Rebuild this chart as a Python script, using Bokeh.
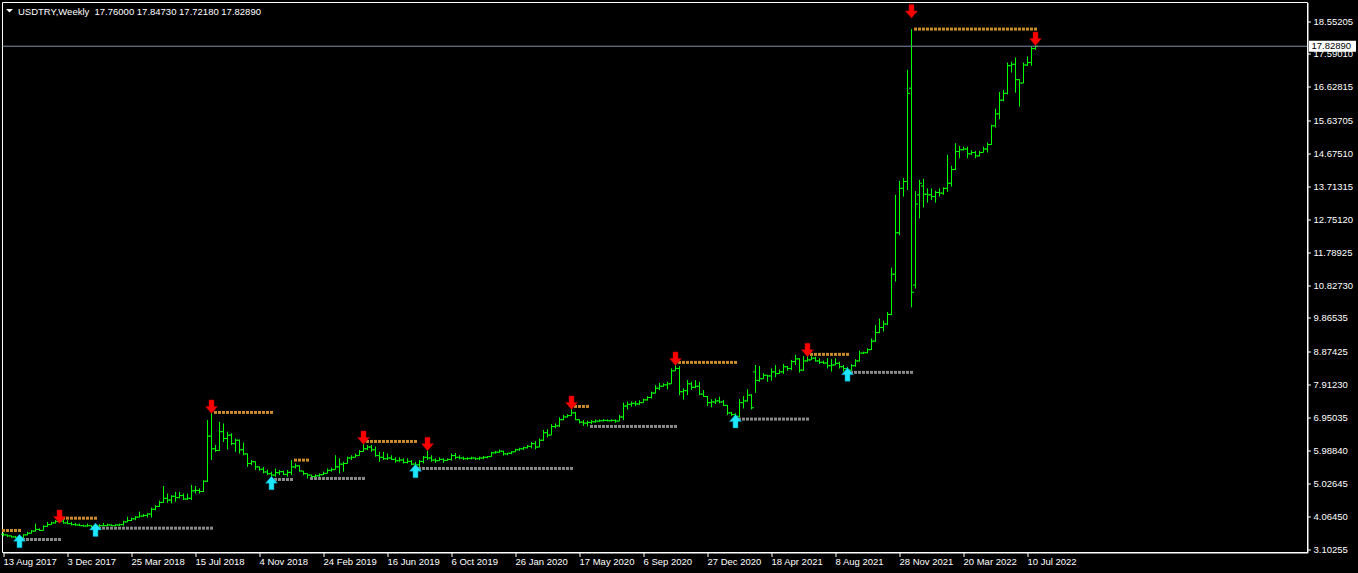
from bokeh.plotting import figure
from bokeh.models import LinearAxis, Label, FixedTicker, PrintfTickFormatter
from bokeh.embed import file_html
from bokeh.resources import INLINE

# ---------------- data ----------------
symbol = "USDTRY"
timeframe = "Weekly"

date_tick_index = [0, 16, 32, 48, 64, 80, 96, 112, 128, 144, 160, 176, 192, 208, 224, 240, 256]
date_tick_labels = ["13 Aug 2017", "3 Dec 2017", "25 Mar 2018", "15 Jul 2018", "4 Nov 2018",
                    "24 Feb 2019", "16 Jun 2019", "6 Oct 2019", "26 Jan 2020", "17 May 2020",
                    "6 Sep 2020", "27 Dec 2020", "18 Apr 2021", "8 Aug 2021", "28 Nov 2021",
                    "20 Mar 2022", "10 Jul 2022"]

price_ticks = [18.55205, 17.59010, 16.62815, 15.63705, 14.67510, 13.71315, 12.75120, 11.78925,
               10.82730, 9.86535, 8.87425, 7.91230, 6.95035, 5.98840, 5.02645, 4.06450, 3.10255]

bar_open = [
    3.55, 3.53, 3.50, 3.47, 3.46, 3.45, 3.53, 3.58, 3.64, 3.69,
    3.66, 3.78, 3.83, 3.88, 3.92, 3.93, 3.88, 3.86, 3.83, 3.82,
    3.80, 3.79, 3.80, 3.77, 3.79, 3.80, 3.80, 3.82, 3.80, 3.82,
    3.83, 3.91, 3.95, 4.00, 4.05, 4.08, 4.10, 4.14, 4.28, 4.36,
    4.48, 4.60, 4.55, 4.66, 4.62, 4.68, 4.58, 4.60, 4.82, 4.83,
    4.80, 5.10, 6.42, 6.05, 6.00, 6.55, 6.35, 6.45, 6.20, 6.30,
    6.02, 5.90, 5.62, 5.67, 5.52, 5.45, 5.37, 5.32, 5.28, 5.35,
    5.38, 5.30, 5.36, 5.52, 5.55, 5.40, 5.32, 5.28, 5.24, 5.26,
    5.29, 5.33, 5.42, 5.44, 5.52, 5.60, 5.62, 5.78, 5.80, 5.85,
    5.97, 6.05, 6.10, 6.02, 5.85, 5.80, 5.76, 5.78, 5.74, 5.70,
    5.72, 5.65, 5.68, 5.60, 5.58, 5.68, 5.80, 5.78, 5.72, 5.70,
    5.74, 5.71, 5.74, 5.85, 5.80, 5.78, 5.76, 5.77, 5.78, 5.76,
    5.78, 5.80, 5.82, 5.93, 5.95, 5.98, 5.90, 5.92, 5.96, 6.02,
    6.05, 6.08, 6.12, 6.20, 6.10, 6.30, 6.52, 6.45, 6.70, 6.72,
    6.90, 6.98, 7.02, 7.10, 6.90, 6.83, 6.80, 6.82, 6.84, 6.86,
    6.87, 6.88, 6.87, 6.88, 6.86, 6.98, 7.30, 7.35, 7.38, 7.36,
    7.40, 7.48, 7.55, 7.68, 7.82, 7.88, 7.92, 7.95, 8.33, 8.40,
    7.72, 7.75, 7.95, 7.85, 7.88, 7.65, 7.58, 7.40, 7.42, 7.45,
    7.42, 7.32, 7.10, 7.05, 7.00, 7.40, 7.45, 7.62, 8.30, 8.05,
    8.10, 8.20, 8.18, 8.30, 8.25, 8.30, 8.45, 8.40, 8.60, 8.68,
    8.35, 8.62, 8.65, 8.70, 8.62, 8.58, 8.56, 8.48, 8.50, 8.55,
    8.45, 8.40, 8.35, 8.48, 8.62, 8.85, 8.86, 8.95, 9.20, 9.45,
    9.60, 9.70, 9.98, 11.16, 12.37, 13.67, 13.87, 16.60, 10.84, 13.48,
    13.74, 13.50, 13.48, 13.43, 13.55, 13.53, 13.67, 13.82, 14.22, 14.75,
    14.80, 14.82, 14.68, 14.72, 14.62, 14.72, 14.82, 14.95, 15.50, 15.85,
    16.25, 16.45, 17.26, 17.30, 16.85, 16.75, 17.28, 17.35, 17.76]

bar_high = [
    3.59, 3.54, 3.51, 3.50, 3.48, 3.55, 3.62, 3.67, 3.86, 3.72,
    3.81, 3.91, 3.91, 3.96, 4.019, 3.98, 3.96, 3.91, 3.88, 3.86,
    3.83, 3.86, 3.81, 3.84, 3.84, 3.88, 3.86, 3.84, 3.84, 3.86,
    3.94, 4.06, 4.04, 4.08, 4.21, 4.14, 4.16, 4.33, 4.40, 4.53,
    4.96, 4.74, 4.69, 4.79, 4.79, 4.74, 4.74, 4.99, 4.96, 4.89,
    5.13, 6.89, 7.113, 6.16, 6.84, 6.79, 6.55, 6.50, 6.35, 6.32,
    6.23, 5.91, 5.72, 5.68, 5.53, 5.52, 5.44, 5.38, 5.47, 5.43,
    5.41, 5.43, 5.718, 5.62, 5.57, 5.40, 5.33, 5.29, 5.30, 5.33,
    5.38, 5.47, 5.50, 5.86, 5.77, 5.67, 5.82, 5.86, 5.91, 6.01,
    6.264, 6.16, 6.16, 6.11, 5.96, 5.96, 5.91, 5.86, 5.80, 5.80,
    5.77, 5.77, 5.72, 5.67, 5.72, 5.84, 6.01, 5.86, 5.77, 5.80,
    5.77, 5.77, 5.91, 5.93, 5.86, 5.82, 5.80, 5.82, 5.79, 5.82,
    5.84, 5.84, 5.96, 5.99, 6.03, 5.99, 5.93, 5.98, 6.05, 6.08,
    6.11, 6.16, 6.25, 6.28, 6.35, 6.60, 6.62, 6.77, 6.79, 6.97,
    7.04, 7.06, 7.289, 7.13, 6.91, 6.89, 6.87, 6.89, 6.91, 6.91,
    6.92, 6.91, 6.91, 6.91, 7.04, 7.40, 7.43, 7.43, 7.45, 7.47,
    7.52, 7.59, 7.72, 7.91, 7.98, 7.96, 8.01, 8.40, 8.577, 8.47,
    7.82, 8.06, 8.01, 8.06, 8.01, 7.77, 7.59, 7.50, 7.52, 7.57,
    7.48, 7.33, 7.13, 7.09, 7.50, 7.59, 7.79, 7.65, 8.50, 8.47,
    8.26, 8.21, 8.40, 8.50, 8.37, 8.53, 8.47, 8.65, 8.80, 8.70,
    8.76, 8.812, 8.76, 8.74, 8.70, 8.63, 8.70, 8.67, 8.70, 8.60,
    8.50, 8.45, 8.53, 8.67, 8.92, 8.89, 8.99, 9.28, 9.67, 9.86,
    9.80, 10.05, 11.35, 13.48, 13.89, 13.97, 17.14, 18.33, 13.59, 13.92,
    13.95, 13.67, 13.67, 13.60, 13.67, 13.70, 14.65, 14.33, 14.99, 14.91,
    14.89, 14.89, 14.79, 14.76, 14.76, 14.89, 15.01, 15.53, 16.00, 16.49,
    16.55, 17.35, 17.38, 17.50, 16.86, 17.35, 17.53, 17.82, 17.8473]

bar_low = [
    3.49, 3.47, 3.45, 3.43, 3.395, 3.44, 3.52, 3.57, 3.63, 3.65,
    3.66, 3.77, 3.82, 3.86, 3.88, 3.86, 3.84, 3.81, 3.80, 3.79,
    3.77, 3.77, 3.74, 3.727, 3.75, 3.79, 3.79, 3.79, 3.79, 3.79,
    3.80, 3.90, 3.94, 3.96, 4.04, 4.06, 4.04, 4.04, 4.25, 4.35,
    4.47, 4.47, 4.45, 4.50, 4.60, 4.55, 4.55, 4.55, 4.74, 4.74,
    4.79, 5.08, 5.72, 5.96, 5.99, 6.25, 6.03, 6.16, 5.96, 5.91,
    5.86, 5.52, 5.57, 5.43, 5.41, 5.33, 5.28, 5.151, 5.23, 5.28,
    5.28, 5.23, 5.28, 5.47, 5.38, 5.28, 5.181, 5.20, 5.21, 5.23,
    5.28, 5.33, 5.38, 5.44, 5.33, 5.38, 5.62, 5.72, 5.80, 5.85,
    5.96, 6.01, 5.96, 5.82, 5.67, 5.72, 5.72, 5.72, 5.64, 5.67,
    5.62, 5.62, 5.57, 5.474, 5.50, 5.62, 5.72, 5.67, 5.64, 5.70,
    5.64, 5.70, 5.70, 5.74, 5.74, 5.72, 5.72, 5.74, 5.72, 5.72,
    5.74, 5.77, 5.82, 5.91, 5.93, 5.85, 5.86, 5.89, 5.96, 5.99,
    6.01, 6.06, 6.06, 6.03, 6.10, 6.28, 6.38, 6.45, 6.65, 6.69,
    6.89, 6.97, 7.02, 6.89, 6.79, 6.72, 6.703, 6.77, 6.81, 6.84,
    6.85, 6.85, 6.85, 6.81, 6.86, 6.89, 7.20, 7.28, 7.30, 7.33,
    7.40, 7.46, 7.52, 7.67, 7.77, 7.87, 7.79, 7.95, 8.33, 7.62,
    7.49, 7.62, 7.77, 7.82, 7.62, 7.57, 7.30, 7.26, 7.36, 7.38,
    7.30, 7.04, 7.01, 6.918, 6.97, 7.23, 7.43, 7.20, 7.69, 8.01,
    8.10, 8.01, 8.04, 8.14, 8.24, 8.24, 8.33, 8.35, 8.50, 8.28,
    8.33, 8.60, 8.65, 8.60, 8.53, 8.53, 8.40, 8.31, 8.50, 8.40,
    8.31, 8.285, 8.33, 8.45, 8.60, 8.82, 8.84, 8.94, 9.18, 9.43,
    9.48, 9.67, 9.96, 10.94, 12.30, 13.43, 13.62, 10.19, 10.74, 12.79,
    13.11, 13.25, 13.33, 13.25, 13.43, 13.48, 13.57, 13.72, 14.21, 14.55,
    14.78, 14.55, 14.65, 14.55, 14.60, 14.72, 14.72, 14.94, 15.45, 15.69,
    16.22, 16.42, 17.06, 16.47, 16.06, 16.75, 17.25, 17.26, 17.7218]

bar_close = [
    3.53, 3.50, 3.47, 3.46, 3.45, 3.53, 3.58, 3.64, 3.69, 3.66,
    3.78, 3.83, 3.88, 3.92, 3.93, 3.88, 3.86, 3.83, 3.82, 3.80,
    3.79, 3.80, 3.77, 3.79, 3.80, 3.80, 3.82, 3.80, 3.82, 3.83,
    3.91, 3.95, 4.00, 4.05, 4.08, 4.10, 4.14, 4.28, 4.36, 4.48,
    4.60, 4.55, 4.66, 4.62, 4.68, 4.58, 4.60, 4.82, 4.83, 4.80,
    5.10, 6.42, 6.05, 6.00, 6.55, 6.35, 6.45, 6.20, 6.30, 6.02,
    5.90, 5.62, 5.67, 5.52, 5.45, 5.37, 5.32, 5.28, 5.35, 5.38,
    5.30, 5.36, 5.52, 5.55, 5.40, 5.32, 5.28, 5.24, 5.26, 5.29,
    5.33, 5.42, 5.44, 5.52, 5.60, 5.62, 5.78, 5.80, 5.85, 5.97,
    6.05, 6.10, 6.02, 5.85, 5.80, 5.76, 5.78, 5.74, 5.70, 5.72,
    5.65, 5.68, 5.60, 5.58, 5.68, 5.80, 5.78, 5.72, 5.70, 5.74,
    5.71, 5.74, 5.85, 5.80, 5.78, 5.76, 5.77, 5.78, 5.76, 5.78,
    5.80, 5.82, 5.93, 5.95, 5.98, 5.90, 5.92, 5.96, 6.02, 6.05,
    6.08, 6.12, 6.20, 6.10, 6.30, 6.52, 6.45, 6.70, 6.72, 6.90,
    6.98, 7.02, 7.10, 6.90, 6.83, 6.80, 6.82, 6.84, 6.86, 6.87,
    6.88, 6.87, 6.88, 6.86, 6.98, 7.30, 7.35, 7.38, 7.36, 7.40,
    7.48, 7.55, 7.68, 7.82, 7.88, 7.92, 7.95, 8.33, 8.40, 7.72,
    7.75, 7.95, 7.85, 7.88, 7.65, 7.58, 7.40, 7.42, 7.45, 7.42,
    7.32, 7.10, 7.05, 7.00, 7.40, 7.45, 7.62, 7.25, 8.05, 8.10,
    8.20, 8.18, 8.30, 8.25, 8.30, 8.45, 8.40, 8.60, 8.68, 8.35,
    8.62, 8.65, 8.70, 8.62, 8.58, 8.56, 8.48, 8.50, 8.55, 8.45,
    8.40, 8.35, 8.48, 8.62, 8.85, 8.86, 8.95, 9.20, 9.45, 9.60,
    9.70, 9.98, 11.16, 12.37, 13.67, 13.87, 16.45, 10.63, 13.21, 13.82,
    13.50, 13.48, 13.43, 13.55, 13.53, 13.67, 13.82, 14.22, 14.75, 14.80,
    14.82, 14.68, 14.72, 14.62, 14.72, 14.82, 14.95, 15.50, 15.85, 16.25,
    16.45, 17.26, 17.30, 16.85, 16.75, 17.28, 17.35, 17.76, 17.8289]

# fractal resistance (orange) and support (gray) levels: bar range and price
res_start = [0, 15, 53, 73, 91, 143, 169, 202, 228]
res_end = [4, 23, 67, 76, 103, 146, 183, 211, 258]
res_level = [3.658, 4.019, 7.113, 5.718, 6.264, 7.289, 8.577, 8.812, 18.33]

sup_start = [5, 24, 68, 77, 104, 147, 184, 212]
sup_end = [14, 52, 72, 90, 142, 168, 201, 227]
sup_level = [3.395, 3.727, 5.151, 5.181, 5.474, 6.703, 6.918, 8.285]

# fractal arrows: bar and price at the arrow tip
down_arrow_index = [14, 52, 90, 106, 142, 168, 201, 227, 258]
down_arrow_price = [3.864, 7.085, 6.177, 5.990, 7.202, 8.490, 8.742, 18.652, 17.849]
up_arrow_index = [4, 23, 67, 103, 183, 211]
up_arrow_price = [3.551, 3.881, 5.249, 5.600, 7.056, 8.420]

# ---------------- layout / style ----------------
W, H = 1358, 573
PPX = 4.0                                          # pixels per weekly bar
PPY = 528.0 / (price_ticks[0] - price_ticks[-1])   # pixels per price unit
X_LO = -3.5 / PPX
X_HI = X_LO + W / PPX
Y_HI = price_ticks[0] + 21.5 / PPY
Y_LO = Y_HI - H / PPY
# chart window border (terminal plot area)
X_LEFT = X_LO + 2.5 / PPX
X_RIGHT = X_LO + 1307.5 / PPX
Y_TOP = Y_HI - 2.5 / PPY
Y_BOT = Y_HI - 552.5 / PPY

GREEN = "#00ff00"
ORANGE = "#c98c2c"
GRAY = "#8a8a8a"
RED = "#ff0000"
CYAN = "#1ee6ff"
PRICE_LINE = "#7f8fa6"
FONT = "Liberation Sans"
FS = "9.5px"

p = figure(width=W, height=H, x_range=(X_LO, X_HI), y_range=(Y_LO, Y_HI),
           output_backend="svg", toolbar_location=None, hidpi=False,
           x_axis_location=None, y_axis_location=None,
           background_fill_color="black", border_fill_color="black", min_border=0)
p.grid.visible = False
p.outline_line_color = None

# plot-area border
p.quad(left=[X_LEFT], right=[X_RIGHT], bottom=[Y_BOT], top=[Y_TOP],
       fill_color=None, line_color="white", line_width=1)

# price axis on the right edge of the plot area
ya = LinearAxis(fixed_location=X_RIGHT, bounds=(Y_BOT, Y_TOP),
                ticker=FixedTicker(ticks=price_ticks),
                formatter=PrintfTickFormatter(format="%.5f"))
ya.axis_line_color = "white"
ya.major_tick_line_color = "white"
ya.major_tick_in = 0
ya.major_tick_out = 3
ya.minor_tick_line_color = None
ya.major_label_standoff = 3
ya.major_label_text_color = "white"
ya.major_label_text_font = FONT
ya.major_label_text_font_size = FS
p.add_layout(ya, "right")

# time axis on the bottom edge, labels start at their tick
xa = LinearAxis(fixed_location=Y_BOT, bounds=(X_LEFT, X_RIGHT),
                ticker=FixedTicker(ticks=date_tick_index),
                major_label_overrides=dict(zip(date_tick_index, date_tick_labels)))
xa.axis_line_color = "white"
xa.major_tick_line_color = "white"
xa.major_tick_in = 0
xa.major_tick_out = 4
xa.minor_tick_line_color = None
xa.major_label_orientation = -0.0001
xa.major_label_standoff = 5
xa.major_label_text_color = "white"
xa.major_label_text_font = FONT
xa.major_label_text_font_size = FS
p.add_layout(xa, "below")

# ---------------- OHLC bars ----------------
idx = list(range(len(bar_close)))
TICK = 2.5 / PPX
p.segment(x0=idx, y0=bar_low, x1=idx, y1=bar_high, line_color=GREEN, line_width=1)
p.segment(x0=[i - TICK for i in idx], y0=bar_open, x1=idx, y1=bar_open, line_color=GREEN, line_width=1)
p.segment(x0=idx, y0=bar_close, x1=[i + TICK for i in idx], y1=bar_close, line_color=GREEN, line_width=1)

# ---------------- dotted support / resistance ----------------
def dots(starts, ends, levels):
    xs, ys = [], []
    for s, e, lv in zip(starts, ends, levels):
        for i in range(s, e + 1):
            xs.append(i)
            ys.append(lv)
    return xs, ys

rx, ry = dots(res_start, res_end, res_level)
sx, sy = dots(sup_start, sup_end, sup_level)
p.scatter(rx, ry, marker="square", size=3, fill_color=ORANGE, line_color=None)
p.scatter(sx, sy, marker="square", size=3, fill_color=GRAY, line_color=None)

# ---------------- fractal arrows ----------------
ARROW = [(0, 0), (-6, 7), (-2.5, 7), (-2.5, 13.5), (2.5, 13.5), (2.5, 7), (6, 7)]
dxs = [[i + a / PPX for a, b in ARROW] for i in down_arrow_index]
dys = [[tip + b / PPY for a, b in ARROW] for tip in down_arrow_price]
p.patches(dxs, dys, fill_color=RED, line_color="#b00000", line_width=0.5)

uxs = [[i + a / PPX for a, b in ARROW] for i in up_arrow_index]
uys = [[tip - b / PPY for a, b in ARROW] for tip in up_arrow_price]
p.patches(uxs, uys, fill_color=CYAN, line_color="#0090b0", line_width=0.5)

# ---------------- current price ----------------
last = bar_close[-1]
p.segment(x0=[X_LEFT], y0=[last], x1=[X_RIGHT], y1=[last], line_color=PRICE_LINE, line_width=1)
p.rect(x=[X_RIGHT + 25.0 / PPX], y=[last], width=47, height=11,
       width_units="screen", height_units="screen", fill_color="white", line_color=None)
p.add_layout(Label(x=X_RIGHT, y=last, x_offset=4, text=f"{last:.5f}", text_font=FONT,
                   text_font_size=FS, text_color="black", text_baseline="middle",
                   text_align="left"))

# ---------------- header ----------------
TRI = [(-3.5, 1.7), (3.5, 1.7), (0, -1.7)]
tx0, ty0 = X_LEFT + 7.0 / PPX, Y_TOP - 8.3 / PPY
p.patch([tx0 + a / PPX for a, b in TRI], [ty0 + b / PPY for a, b in TRI],
        fill_color="white", line_color=None)
header = (f"{symbol},{timeframe}\u00a0\u00a0{bar_open[-1]:.5f} {bar_high[-1]:.5f} "
          f"{bar_low[-1]:.5f} {bar_close[-1]:.5f}")
p.add_layout(Label(x=X_LEFT, y=Y_TOP - 8.5 / PPY, x_offset=15.5, text=header, text_font=FONT,
                   text_font_size=FS, text_color="white", text_baseline="middle",
                   text_align="left"))

open("out.html", "w").write(file_html(p, INLINE))
